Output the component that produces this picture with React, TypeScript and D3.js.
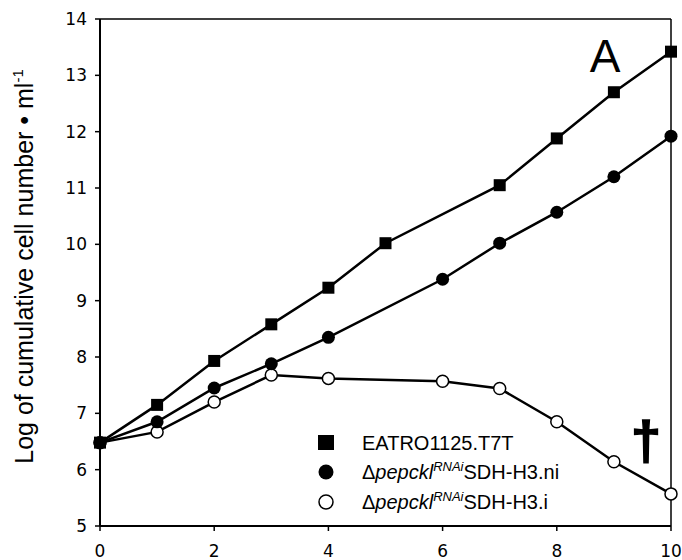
import React from 'react';
import * as d3 from 'd3';

const daysSquare = [0, 1, 2, 3, 4, 5, 7, 8, 9, 10];
const valuesSquare = [6.48, 7.15, 7.93, 8.58, 9.23, 10.02, 11.05, 11.88, 12.7, 13.42];

const daysFilled = [0, 1, 2, 3, 4, 6, 7, 8, 9, 10];
const valuesFilled = [6.48, 6.85, 7.45, 7.88, 8.35, 9.38, 10.02, 10.57, 11.2, 11.92];

const daysOpen = [0, 1, 2, 3, 4, 6, 7, 8, 9, 10];
const valuesOpen = [6.48, 6.67, 7.2, 7.68, 7.62, 7.57, 7.44, 6.85, 6.14, 5.57];

const xTicks = [0, 2, 4, 6, 8, 10];
const yTicks = [5, 6, 7, 8, 9, 10, 11, 12, 13, 14];

const W = 682;
const H = 560;
const left = 100;
const right = 671;
const top = 19;
const bottom = 526;

export default function App() {
  const x = d3.scaleLinear().domain([0, 10]).range([left, right]);
  const y = d3.scaleLinear().domain([5, 14]).range([bottom, top]);

  const pts = (ds: number[], vs: number[]) => ds.map((d, i) => [x(d), y(vs[i])] as [number, number]);
  const line = d3.line();

  const sq = pts(daysSquare, valuesSquare);
  const fc = pts(daysFilled, valuesFilled);
  const oc = pts(daysOpen, valuesOpen);

  const font = 'Liberation Sans, Arial, sans-serif';
  const tickFont = 'DejaVu Sans, Verdana, sans-serif';

  return (
    <svg width={W} height={H} style={{ position: 'absolute', left: 0, top: 0, background: '#fff' }}>
      {/* frame */}
      <line x1={left} x2={right} y1={top} y2={top} stroke="#000" strokeWidth={1.5} />
      <line x1={right} x2={right} y1={top} y2={bottom} stroke="#000" strokeWidth={1.5} />
      <line x1={left} x2={left} y1={top} y2={bottom} stroke="#000" strokeWidth={2} />
      <line x1={left} x2={right} y1={bottom} y2={bottom} stroke="#000" strokeWidth={2} />

      {yTicks.map(t => (
        <g key={'y' + t}>
          <line x1={left - 5} x2={left} y1={y(t)} y2={y(t)} stroke="#000" strokeWidth={1.5} />
          <text x={left - 13} y={y(t)} dy="0.36em" textAnchor="end" fontFamily={tickFont} fontSize={17}>{t}</text>
        </g>
      ))}
      {xTicks.map(t => (
        <g key={'x' + t}>
          <line x1={x(t)} x2={x(t)} y1={bottom} y2={bottom + 5} stroke="#000" strokeWidth={1.5} />
          <text x={x(t)} y={bottom + 31} textAnchor="middle" fontFamily={tickFont} fontSize={17}>{t}</text>
        </g>
      ))}

      <text transform={`translate(33,${(top + bottom) / 2 - 6}) rotate(-90)`} textAnchor="middle" fontFamily={font} fontSize={25}>
        Log of cumulative cell number • ml<tspan dy={-10} fontSize={15}>-1</tspan>
      </text>

      <path d={line(sq) || ''} fill="none" stroke="#000" strokeWidth={2.5} />
      <path d={line(fc) || ''} fill="none" stroke="#000" strokeWidth={2.5} />
      <path d={line(oc) || ''} fill="none" stroke="#000" strokeWidth={2.5} />

      {oc.map((p, i) => (
        <circle key={'o' + i} cx={p[0]} cy={p[1]} r={6} fill="#fff" stroke="#000" strokeWidth={1.5} />
      ))}
      {fc.map((p, i) => (
        <circle key={'f' + i} cx={p[0]} cy={p[1]} r={6.5} fill="#000" />
      ))}
      {sq.map((p, i) => (
        <rect key={'s' + i} x={p[0] - 6} y={p[1] - 6} width={12} height={12} fill="#000" />
      ))}

      <text x={605} y={72} textAnchor="middle" fontFamily={font} fontSize={46}>A</text>
      <text x={646} y={459} textAnchor="middle" fontFamily={font} fontSize={54} fontWeight="bold" stroke="#000" strokeWidth={1.5}>†</text>

      {/* legend */}
      <rect x={318} y={435} width={16} height={15} fill="#000" />
      <text x={362} y={450} fontFamily={font} fontSize={20}>EATRO1125.T7T</text>
      <circle cx={326} cy={472} r={7.5} fill="#000" />
      <text x={362} y={479} fontFamily={font} fontSize={20}>
        Δ<tspan fontStyle="italic">pepckl</tspan><tspan fontStyle="italic" fontSize={13} dy={-8}>RNAi</tspan><tspan dy={8}>SDH-H3.ni</tspan>
      </text>
      <circle cx={326} cy={502} r={7} fill="#fff" stroke="#000" strokeWidth={1.5} />
      <text x={362} y={509} fontFamily={font} fontSize={20}>
        Δ<tspan fontStyle="italic">pepckl</tspan><tspan fontStyle="italic" fontSize={13} dy={-8}>RNAi</tspan><tspan dy={8}>SDH-H3.i</tspan>
      </text>
    </svg>
  );
}
